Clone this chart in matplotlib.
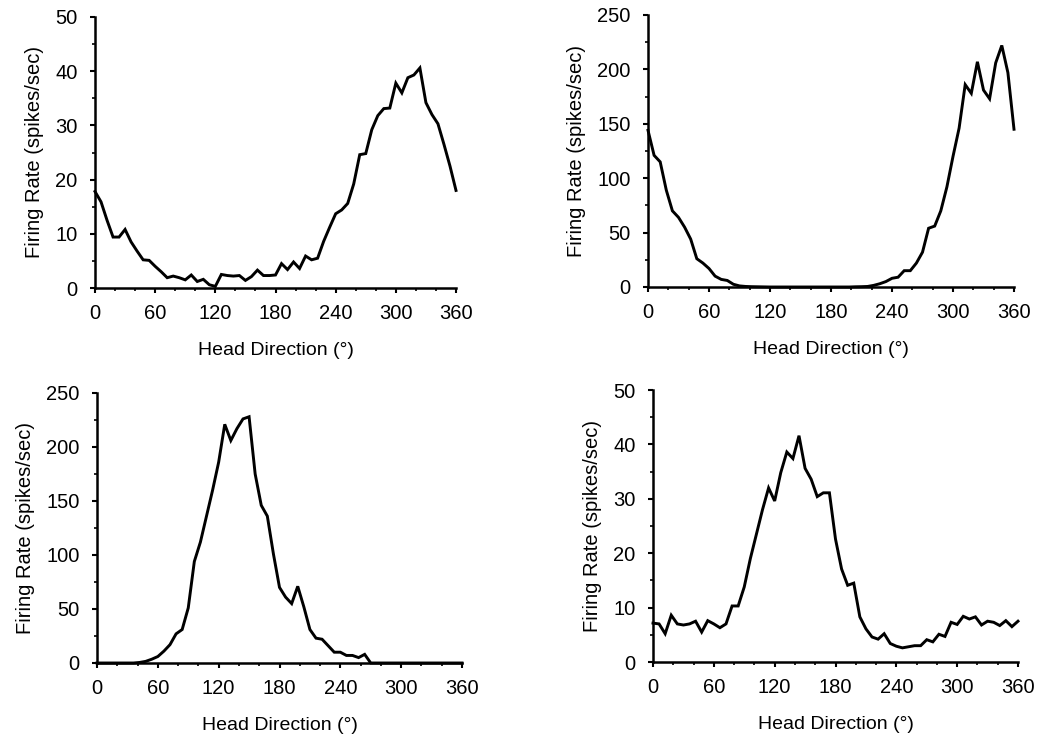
import matplotlib
matplotlib.use("Agg")
import matplotlib.pyplot as plt
import numpy as np
from matplotlib.ticker import MultipleLocator

plt.rcParams['font.family'] = ['Liberation Sans', 'DejaVu Sans']

# Head direction bins (degrees), 6-degree bins
directions = list(range(0, 361, 6))

# Cell A (top left) firing rate, spikes/sec
rate_a = [17.8, 15.9, 12.5, 9.4, 9.4, 10.8, 8.5, 6.8, 5.2, 5.1,
          4.0, 3.0, 1.9, 2.2, 1.9, 1.5, 2.4, 1.2, 1.6, 0.6,
          0.3, 2.5, 2.3, 2.2, 2.3, 1.4, 2.1, 3.3, 2.3, 2.3,
          2.4, 4.5, 3.4, 4.8, 3.6, 5.9, 5.2, 5.5, 8.6, 11.2,
          13.7, 14.4, 15.6, 19.2, 24.6, 24.8, 29.2, 31.8, 33.1, 33.2,
          37.8, 36.0, 38.8, 39.3, 40.6, 34.2, 32.0, 30.3, 26.5, 22.5,
          18.0]

# Cell B (top right)
rate_b = [144, 121, 115, 89, 70, 64, 55, 44, 26, 22,
          17, 10, 7, 6, 2.5, 1, 0.5, 0.3, 0.2, 0.1,
          0, 0, 0, 0, 0, 0, 0, 0, 0, 0,
          0, 0, 0, 0, 0.2, 0.3, 0.5, 1.5, 3, 5,
          8, 9, 15, 15, 22, 32, 54, 56, 70, 92,
          120, 146, 186, 178, 207, 181, 173, 206, 222, 197,
          145]

# Cell C (bottom left)
rate_c = [0, 0, 0, 0, 0, 0, 0, 0.5, 1.5, 3.5,
          6, 11, 17, 27, 31, 51, 94, 112, 136, 160,
          186, 221, 206, 217, 226, 228, 175, 146, 136, 101,
          70, 61, 55, 71, 52, 31, 23, 22, 16, 10,
          10, 7, 7, 5, 8, 0, 0, 0, 0, 0,
          0, 0, 0, 0, 0, 0, 0, 0, 0, 0,
          0]

# Cell D (bottom right)
rate_d = [7.15, 7.0, 5.2, 8.6, 7.0, 6.8, 7.0, 7.5, 5.5, 7.6,
          7.0, 6.3, 7.0, 10.3, 10.3, 13.8, 19.0, 23.5, 28.0, 32.0,
          29.6, 34.8, 38.6, 37.4, 41.6, 35.6, 33.6, 30.4, 31.1, 31.1,
          22.6, 17.1, 14.1, 14.5, 8.3, 6.1, 4.6, 4.2, 5.2, 3.4,
          2.9, 2.6, 2.8, 3.0, 3.0, 4.1, 3.7, 5.1, 4.7, 7.3,
          6.9, 8.4, 7.9, 8.3, 6.8, 7.5, 7.3, 6.7, 7.6, 6.5,
          7.5]

x_ticks = [0, 60, 120, 180, 240, 300, 360]
y_max = [50, 250, 250, 50]
y_major = [10, 50, 50, 10]
y_minor = [5, 25, 25, 5]

W, H = 1038, 738
fig = plt.figure(figsize=(W / 100, H / 100), dpi=100)

# axes boxes in pixels: left, right, top, bottom
boxes = [(95, 456, 17, 288), (648, 1014, 15, 287),
         (97, 462, 393, 663), (653, 1018, 390, 662)]
series = [rate_a, rate_b, rate_c, rate_d]

for i, (l, r, t, b) in enumerate(boxes):
    ax = fig.add_axes([l / W, 1 - b / H, (r - l) / W, (b - t) / H])
    ax.plot(directions, series[i], color='black', lw=2.1, clip_on=False,
            solid_joinstyle='miter')
    ax.set_xlim(0, 360)
    ax.set_ylim(0, y_max[i])
    ax.set_xticks(x_ticks)
    ax.xaxis.set_minor_locator(MultipleLocator(20))
    ax.yaxis.set_major_locator(MultipleLocator(y_major[i]))
    ax.yaxis.set_minor_locator(MultipleLocator(y_minor[i]))
    for s in ['top', 'right']:
        ax.spines[s].set_visible(False)
    for s in ['left', 'bottom']:
        ax.spines[s].set_linewidth(1.8)
    ax.tick_params(which='major', direction='out', length=3.5, width=1.5,
                   labelsize=14.5)
    ax.tick_params(axis='x', which='major', pad=8)
    ax.tick_params(axis='y', which='major', pad=9)
    ax.tick_params(which='minor', direction='out', length=2.5, width=1.2)
    ax.set_xlabel('Head Direction (°)', fontsize=14, labelpad=14)
    ax.set_ylabel('Firing Rate (spikes/sec)', fontsize=14.5, labelpad=8)

fig.savefig('out.png', dpi=100, facecolor='white')
